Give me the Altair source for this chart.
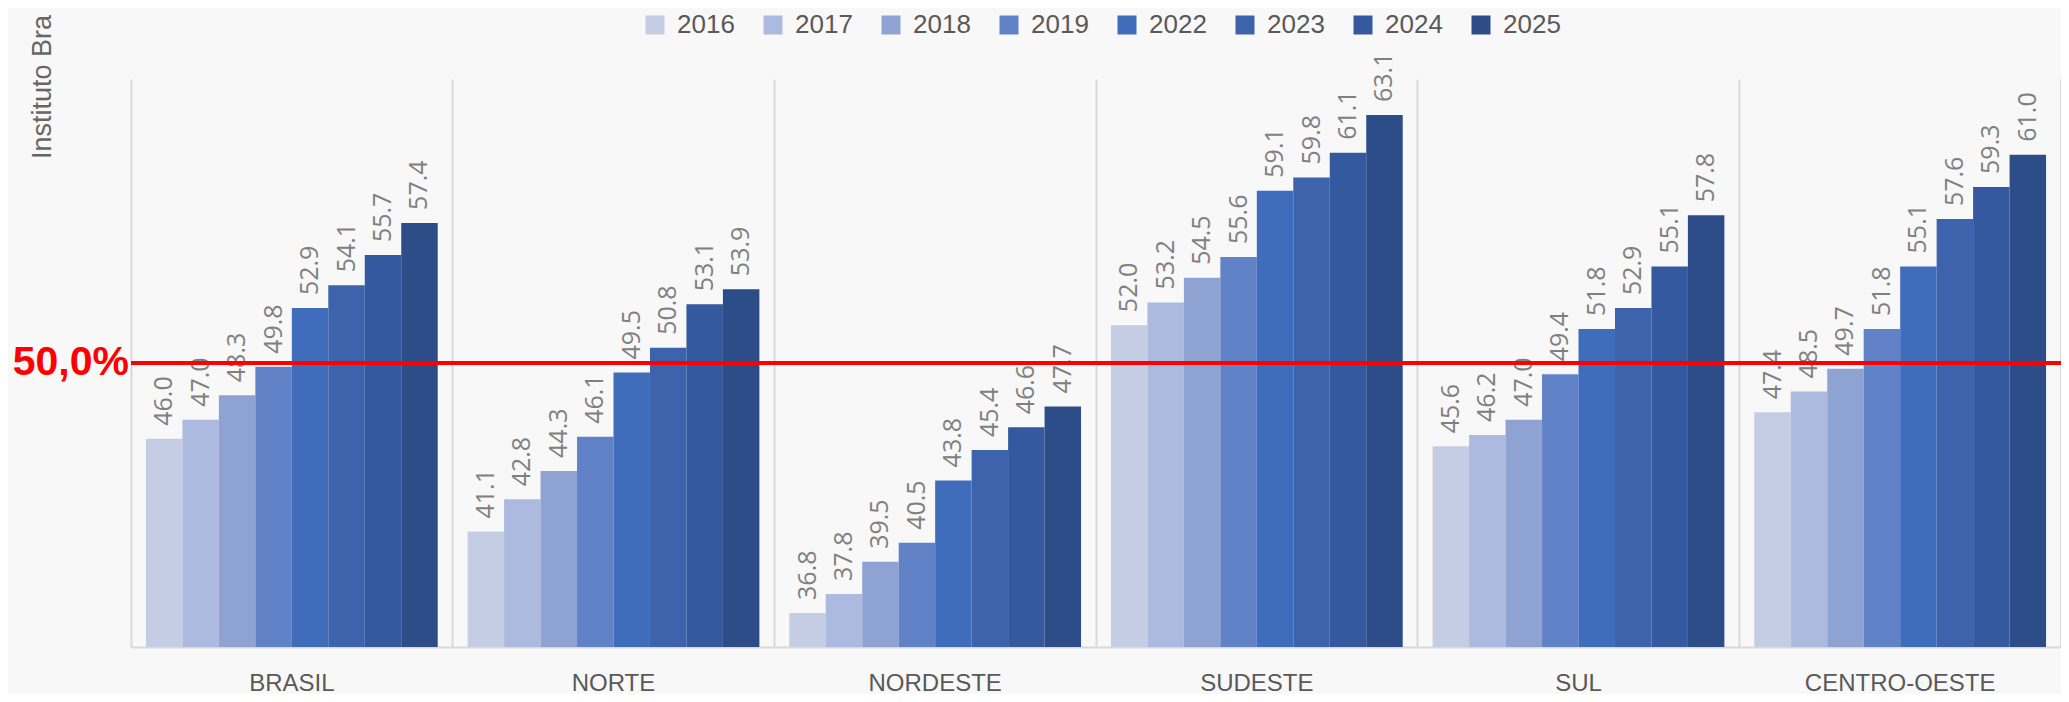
import altair as alt
import pandas as pd

regions = ["BRASIL", "NORTE", "NORDESTE", "SUDESTE", "SUL", "CENTRO-OESTE"]
years = ["2016", "2017", "2018", "2019", "2022", "2023", "2024", "2025"]
brasil = [46.0, 47.0, 48.3, 49.8, 52.9, 54.1, 55.7, 57.4]
norte = [41.1, 42.8, 44.3, 46.1, 49.5, 50.8, 53.1, 53.9]
nordeste = [36.8, 37.8, 39.5, 40.5, 43.8, 45.4, 46.6, 47.7]
sudeste = [52.0, 53.2, 54.5, 55.6, 59.1, 59.8, 61.1, 63.1]
sul = [45.6, 46.2, 47.0, 49.4, 51.8, 52.9, 55.1, 57.8]
centro_oeste = [47.4, 48.5, 49.7, 51.8, 55.1, 57.6, 59.3, 61.0]
colors = ["#c5cde5", "#adbadf", "#8fa3d3", "#6282c8", "#3f6dbc", "#3c63ac", "#34599f", "#2d4d88"]
threshold = 50.0
threshold_label = "50,0%"
side_text = "Instituto Bra"
y_min, y_max = 35, 65

series = [brasil, norte, nordeste, sudeste, sul, centro_oeste]
rows = []
for reg, vals in zip(regions, series):
    for yr, v in zip(years, vals):
        rows.append({"region": reg, "year": yr, "value": v})
df = pd.DataFrame(rows)
thr_df = pd.DataFrame({"value": [threshold], "label": [threshold_label]})

x_enc = alt.X("region:N", sort=regions,
              scale=alt.Scale(paddingInner=0, paddingOuter=0),
              axis=alt.Axis(title=None, labelAngle=0, ticks=False, labelFontSize=24,
                            labelFont="Liberation Sans", labelColor="#595959",
                            labelPadding=24, labelLimit=400,
                            domainColor="#d9d9d9", domainWidth=2,
                            grid=True, gridColor="#d9d9d9", gridWidth=2,
                            bandPosition=0))
y_scale = alt.Scale(domain=[y_min, y_max], zero=False, nice=False)
xoff = alt.XOffset("year:N", sort=years, scale=alt.Scale(paddingInner=0, paddingOuter=0.41))

bars = alt.Chart(df).mark_bar().encode(
    x=x_enc,
    xOffset=xoff,
    y=alt.Y("value:Q", scale=y_scale, axis=None),
    y2=alt.datum(y_min),
    color=alt.Color("year:N", sort=years,
                    scale=alt.Scale(domain=years, range=colors),
                    legend=alt.Legend(title=None, orient="none", direction="horizontal",
                                      legendX=511, legendY=-67, symbolType="square",
                                      symbolSize=361, symbolStrokeWidth=0,
                                      labelFontSize=26, labelFont="Liberation Sans",
                                      labelColor="#595959", labelOffset=9,
                                      columnPadding=25, padding=0)),
)

labels = alt.Chart(df).mark_text(angle=270, align="left", baseline="middle", dx=13,
                                 fontSize=25, font="Open Sans", color="#808080").encode(
    x=alt.X("region:N", sort=regions),
    xOffset=xoff,
    y=alt.Y("value:Q", scale=y_scale),
    text=alt.Text("value:Q", format=".1f"),
)

sep_right = alt.Chart(thr_df).mark_rule(color="#d9d9d9", strokeWidth=2).encode(
    x=alt.value("width"),
    y=alt.value(0),
    y2=alt.value("height"),
)

red_line = alt.Chart(thr_df).mark_rule(color="#ff0000", strokeWidth=4).encode(
    y=alt.Y("value:Q", scale=y_scale),
)
red_text = alt.Chart(thr_df).mark_text(align="right", baseline="middle", fontSize=41,
                                       fontWeight="bold", font="Liberation Sans",
                                       color="#ff0000").encode(
    y=alt.Y("value:Q", scale=y_scale),
    x=alt.value(-2),
    text="label:N",
)
side = alt.Chart(thr_df).mark_text(angle=270, align="left", baseline="alphabetic",
                                   fontSize=27, font="Liberation Sans", color="#666666").encode(
    x=alt.value(-80),
    y=alt.value(80),
    text=alt.value(side_text),
)

chart = alt.layer(sep_right, bars, labels, red_line, red_text, side).properties(
    width=1930,
    height=568,
    padding={"left": 123, "top": 71, "right": 0, "bottom": 47},
    autosize=alt.AutoSizeParams(type="none"),
    background="#f8f8f8",
).configure_view(strokeWidth=0)

chart.save("out.html", embed_options={"renderer": "svg", "actions": False})
